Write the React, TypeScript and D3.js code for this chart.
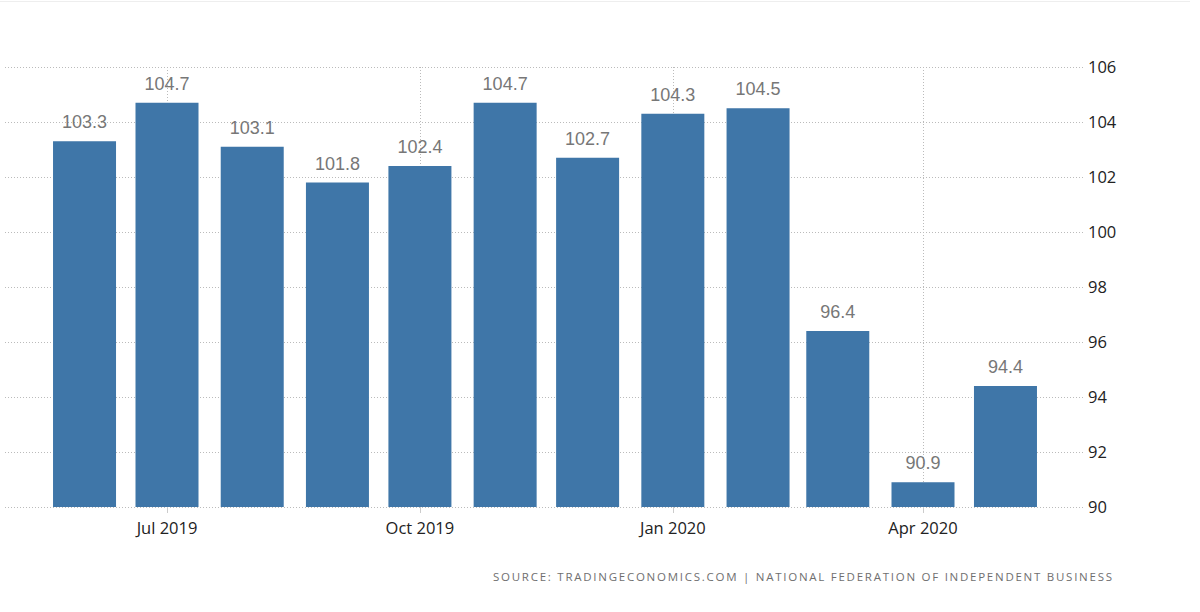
import React, { useEffect, useRef } from 'react';
import * as d3 from 'd3';

const months = ['2019-06', '2019-07', '2019-08', '2019-09', '2019-10', '2019-11', '2019-12', '2020-01', '2020-02', '2020-03', '2020-04', '2020-05'];
const values = [103.3, 104.7, 103.1, 101.8, 102.4, 104.7, 102.7, 104.3, 104.5, 96.4, 90.9, 94.4];
const yTicks = [90, 92, 94, 96, 98, 100, 102, 104, 106];
const sourceText = 'SOURCE: TRADINGECONOMICS.COM | NATIONAL FEDERATION OF INDEPENDENT BUSINESS';

const W = 1200;
const H = 612;

const App = () => {
  const ref = useRef(null);

  useEffect(() => {
    const svg = d3.select(ref.current);
    svg.selectAll('*').remove();

    const parse = d3.utcParse('%Y-%m');
    const dates = months.map(m => parse(m));

    const x = d3.scaleUtc()
      .domain([new Date(Date.UTC(2019, 6, 1)), new Date(Date.UTC(2020, 3, 1))])
      .range([167, 923]);
    const y = d3.scaleLinear().domain([90, 106]).range([507, 67]);
    const barW = 63;
    const left = 5, right = 1083;

    // faint top border
    svg.append('line')
      .attr('x1', 0).attr('x2', 1190).attr('y1', 1.5).attr('y2', 1.5)
      .attr('stroke', '#eeeeee');

    // horizontal grid
    svg.append('g').selectAll('line').data(yTicks).join('line')
      .attr('x1', left).attr('x2', right)
      .attr('y1', d => y(d) + 0.5).attr('y2', d => y(d) + 0.5)
      .attr('stroke', '#bbbbbb')
      .attr('stroke-dasharray', '1,2');

    // vertical grid at time ticks
    const xTicks = x.ticks(d3.utcMonth.every(3));
    svg.append('g').selectAll('line').data(xTicks).join('line')
      .attr('x1', d => Math.round(x(d)) + 0.5).attr('x2', d => Math.round(x(d)) + 0.5)
      .attr('y1', y(106)).attr('y2', y(90))
      .attr('stroke', '#bbbbbb')
      .attr('stroke-dasharray', '1,2');

    // tick marks below axis
    svg.append('g').selectAll('line').data(xTicks).join('line')
      .attr('x1', d => Math.round(x(d)) + 0.5).attr('x2', d => Math.round(x(d)) + 0.5)
      .attr('y1', y(90)).attr('y2', y(90) + 6)
      .attr('stroke', '#cccccc');

    // bars
    svg.append('g').selectAll('rect').data(values).join('rect')
      .attr('x', (d, i) => x(dates[i]) - barW / 2)
      .attr('y', d => y(d))
      .attr('width', barW)
      .attr('height', d => y(90) - y(d))
      .attr('fill', '#3f76a8');

    // value labels
    svg.append('g').selectAll('text').data(values).join('text')
      .attr('x', (d, i) => x(dates[i]))
      .attr('y', d => y(d) - 13)
      .attr('text-anchor', 'middle')
      .attr('font-family', '"Liberation Sans", Arial, sans-serif')
      .attr('font-size', 18)
      .attr('fill', '#777777')
      .text(d => d.toFixed(1));

    // x labels
    const fmt = d3.utcFormat('%b %Y');
    svg.append('g').selectAll('text').data(xTicks).join('text')
      .attr('x', d => x(d))
      .attr('y', 534)
      .attr('text-anchor', 'middle')
      .attr('font-family', '"Open Sans", sans-serif')
      .attr('font-size', 16.5)
      .attr('fill', '#222222')
      .text(d => fmt(d));

    // y labels
    svg.append('g').selectAll('text').data(yTicks).join('text')
      .attr('x', 1088)
      .attr('y', d => y(d) + 6)
      .attr('font-family', '"Open Sans", sans-serif')
      .attr('font-size', 16.5)
      .attr('fill', '#222222')
      .text(d => d);

    // source
    svg.append('text')
      .attr('x', 493)
      .attr('y', 581)
      .attr('textLength', 619)
      .attr('lengthAdjust', 'spacing')
      .attr('font-family', '"Open Sans", sans-serif')
      .attr('font-size', 11.5)
      .attr('fill', '#6f6f6f')
      .text(sourceText);
  }, []);

  return (
    <div style={{ position: 'absolute', left: 0, top: 0 }}>
      <svg ref={ref} width={W} height={H} style={{ display: 'block', background: '#fff' }}></svg>
    </div>
  );
};

export default App;
